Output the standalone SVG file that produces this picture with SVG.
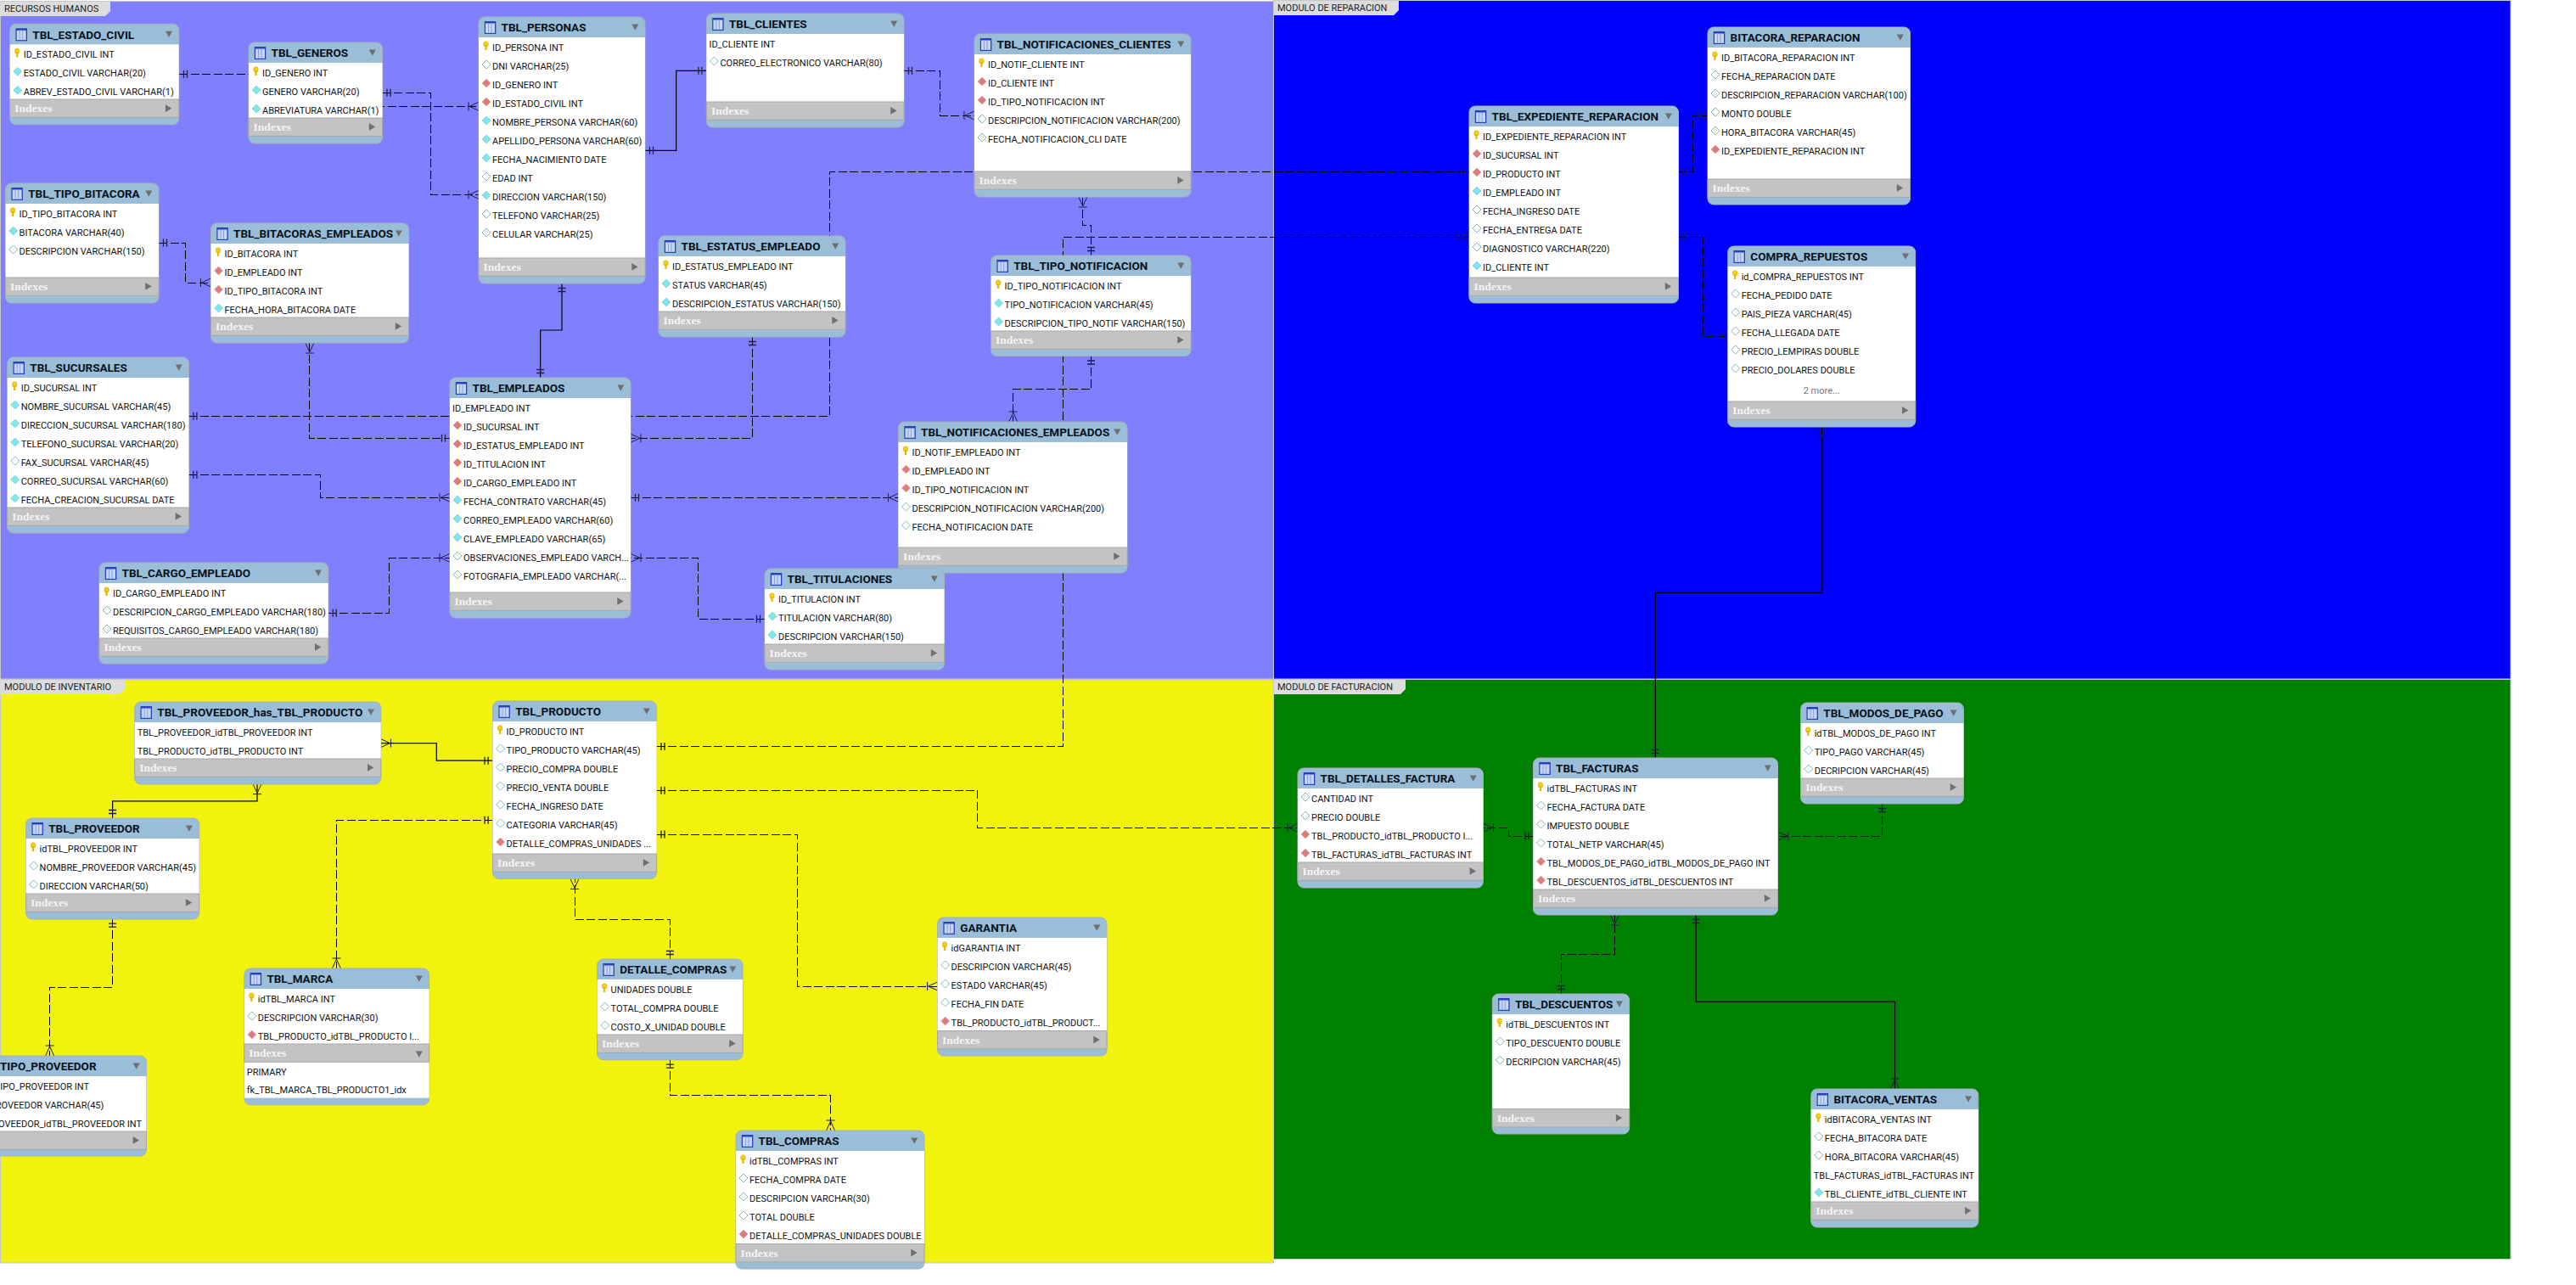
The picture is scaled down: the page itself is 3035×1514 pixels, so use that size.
<svg xmlns="http://www.w3.org/2000/svg" width="3035" height="1514" viewBox="0 0 3035 1514">
<style>
text{font-family:Roboto,"Liberation Sans",sans-serif;fill:#111}
.lb{font-size:11px;fill:#222}
.r{font-size:11px}
.t{font-size:13.5px;font-weight:700;fill:#08121c}
.x{font-family:"Liberation Serif",serif;font-size:13.5px;font-weight:700;fill:#f4f4f4}
.m{font-size:11px;fill:#777;text-anchor:middle}
.n{fill:#9abdd8;stroke:#a8b0b8;stroke-width:1}
.b{fill:#fff}
.i{fill:#c3c3c3;stroke:#a8a8a8;stroke-width:1}
.tab{fill:#dcdcdc}
.ly{stroke:#c8c8c8;stroke-width:1}
.d{fill:none;stroke:#000;stroke-width:1;stroke-dasharray:10 3.5;shape-rendering:crispEdges}
.s{fill:none;stroke:#000;stroke-width:1.2}
.d,.s{marker-start:url(#one)}
.c1{marker-end:url(#many)}
.c2{marker-end:url(#one)}
.c3{marker-start:url(#many)}
</style>
<defs>
<marker id="one" markerUnits="userSpaceOnUse" markerWidth="30" markerHeight="20" viewBox="-20 -10 30 20" refX="0" refY="0" orient="auto-start-reverse" overflow="visible">
<path d="M-5.5-4.5V4.5M-9.5-4.5V4.5" fill="none" stroke="#1e1e48" stroke-width="1.3"/>
</marker>
<marker id="many" markerUnits="userSpaceOnUse" markerWidth="30" markerHeight="20" viewBox="-20 -10 30 20" refX="0" refY="0" orient="auto-start-reverse" overflow="visible">
<path d="M0-5L-11 0L0 5M-12-5V5" fill="none" stroke="#1e1e48" stroke-width="1"/>
</marker>
<g id="ic"><rect x="6.8" y="5" width="13.5" height="15" fill="#2a3fc0"/><rect x="8" y="7.5" width="11" height="11.3" fill="#c4d6f2"/><path d="M11.5 7.5V18.8M15 7.5V18.8" stroke="#8aa4dc" stroke-width="1"/></g>
<polygon id="tri" points="0,8.4 8,8.4 4,15.7" fill="#6f6f6f"/>
<polygon id="arr" points="0,0 7.3,4.4 0,8.8" fill="#6f6f6f"/>
<g id="k"><ellipse cx="8.5" cy="32" rx="2.8" ry="3.2" fill="#f6d20e" stroke="#c79a00" stroke-width=".5"/><rect x="7.4" y="33" width="2.2" height="6" fill="#e8b800"/></g>
<polygon id="c" points="9,29 14,34 9,39 4,34" fill="#7ae8ec" stroke="#9cd0d4" stroke-width="1"/>
<polygon id="w" points="9,29 14,34 9,39 4,34" fill="#fff" stroke="#7fb8b8" stroke-width="1"/>
<polygon id="o" points="9,29 14,34 9,39 4,34" fill="#e07a7a" stroke="#dcb0b0" stroke-width="1"/>
</defs>
<rect width="3035" height="1514" fill="#fff"/>
<g id="layers">
<rect class="ly" x="0.5" y="1.5" width="1500" height="798.5" fill="#8080ff"/>
<rect class="ly" x="1500.5" y="0.5" width="1457.5" height="799.5" fill="#0000ff"/>
<rect class="ly" x="0.5" y="800.5" width="1500" height="687.5" fill="#f2f20f"/>
<rect class="ly" x="1500.5" y="800.5" width="1457.5" height="683" fill="#008000"/>
<polygon class="tab" points="0,2 130,2 130,13 124,19 0,19"/><text class="lb" x="5" y="14">RECURSOS HUMANOS</text>
<polygon class="tab" points="1501,1 1648,1 1648,12 1642,18 1501,18"/><text class="lb" x="1505" y="13">MODULO DE REPARACION</text>
<polygon class="tab" points="0,801 147,801 147,812 141,818 0,818"/><text class="lb" x="5" y="813">MODULO DE INVENTARIO</text>
<polygon class="tab" points="1501,801 1656,801 1656,812 1650,818 1501,818"/><text class="lb" x="1505" y="813">MODULO DE FACTURACION</text>
</g>
<g id="connectors">
<path class="d c1" d="M211,87.3H400V125.3H564"/>
<path class="d c1" d="M450.5,109.3H507.7V229.3H564"/>
<path class="d c1" d="M187,286H218.4V333H248.5"/>
<path class="s c2" d="M760,177.3H796.7V83.3H832.4"/>
<path class="d c1" d="M1065,83.3H1107.4V136H1148"/>
<path class="s c2" d="M662,334V389H636.7V445"/>
<path class="d c3 c2" d="M364.8,404V516.3H530"/>
<path class="d c2" d="M222.4,490.3H977.3V202.5H1731"/>
<path class="d c1" d="M886.5,397V516.3H743"/>
<path class="d c1" d="M222.4,559.3H377V586.3H530"/>
<path class="d c1" d="M743,586.3H1058.5"/>
<path class="d c1" d="M386.7,722.3H458.7V657.3H530"/>
<path class="d c1" d="M901,729.3H822.8V657.3H743"/>
<path class="d c1" d="M1285.5,301V265.7H1275.8V232"/>
<path class="d c1" d="M1285.5,419.5V458.3H1193.7V497"/>
<path class="d c1" d="M773.5,879.6H1252.5V279.3H1731"/>
<path class="d c1" d="M1977.5,202.8H1994V136H2012"/>
<path class="d c1" d="M1977.5,279.2H2006.6V396.2H2035.7"/>
<path class="s c1" d="M1950.4,893V698.3H2146.7V503"/>
<path class="s c1" d="M580.6,896.2H514.3V875.6H448.5"/>
<path class="s c1" d="M132.6,964V943.8H303V923.6"/>
<path class="d c1" d="M132.6,1082.6V1163.4H58.7V1244"/>
<path class="d c1" d="M580.6,966.3H396.4V1141"/>
<path class="d c1" d="M789.3,1130V1083H677V1035.4"/>
<path class="d c1" d="M789.3,1248.7V1290H978.6V1332"/>
<path class="d c1" d="M773.5,983H939.3V1162H1104.6"/>
<path class="d c1" d="M773.5,931.2H1151.5V975.2H1529"/>
<path class="d c1" d="M1806.5,985H1777V975.2H1747.4"/>
<path class="d c1" d="M2217.6,947V985H2094.7"/>
<path class="d c1" d="M1839.3,1171V1124.6H1902.4V1078"/>
<path class="s c1" d="M1998.3,1078V1180.3H2232.5V1283"/>
</g>
<g id="TBL_ESTADO_CIVIL" transform="translate(11.7 28.3)">
<rect class="n" width="199" height="118.4" rx="7"/><rect class="b" y="24" width="199" height="64.7"/><rect class="i" y="88.7" width="199" height="21.3"/>
<use href="#ic"/><text class="t" x="26.6" y="17.4">TBL_ESTADO_CIVIL</text><use href="#tri" x="183.3"/>
<use href="#k"/><text class="r" x="16" y="40">ID_ESTADO_CIVIL INT</text>
<use href="#c" y="22"/><text class="r" x="16" y="62">ESTADO_CIVIL VARCHAR(20)</text>
<use href="#c" y="44"/><text class="r" x="16" y="84">ABREV_ESTADO_CIVIL VARCHAR(1)</text>
<text class="x" x="5.5" y="104">Indexes</text><use href="#arr" x="183.3" y="95"/>
</g>
<g id="TBL_GENEROS" transform="translate(293 50)">
<rect class="n" width="157.5" height="119" rx="7"/><rect class="b" y="24" width="157.5" height="65"/><rect class="i" y="89" width="157.5" height="21.3"/>
<use href="#ic"/><text class="t" x="26.6" y="17.4">TBL_GENEROS</text><use href="#tri" x="141.8"/>
<use href="#k"/><text class="r" x="16" y="40">ID_GENERO INT</text>
<use href="#c" y="22"/><text class="r" x="16" y="62">GENERO VARCHAR(20)</text>
<use href="#c" y="44"/><text class="r" x="16" y="84">ABREVIATURA VARCHAR(1)</text>
<text class="x" x="5.5" y="104">Indexes</text><use href="#arr" x="141.8" y="95"/>
</g>
<g id="TBL_PERSONAS" transform="translate(564 20)">
<rect class="n" width="196" height="314" rx="7"/><rect class="b" y="24" width="196" height="260"/><rect class="i" y="284" width="196" height="21.3"/>
<use href="#ic"/><text class="t" x="26.6" y="17.4">TBL_PERSONAS</text><use href="#tri" x="180.3"/>
<use href="#k"/><text class="r" x="16" y="40">ID_PERSONA INT</text>
<use href="#w" y="22"/><text class="r" x="16" y="62">DNI VARCHAR(25)</text>
<use href="#o" y="44"/><text class="r" x="16" y="84">ID_GENERO INT</text>
<use href="#o" y="66"/><text class="r" x="16" y="106">ID_ESTADO_CIVIL INT</text>
<use href="#c" y="88"/><text class="r" x="16" y="128">NOMBRE_PERSONA VARCHAR(60)</text>
<use href="#c" y="110"/><text class="r" x="16" y="150">APELLIDO_PERSONA VARCHAR(60)</text>
<use href="#c" y="132"/><text class="r" x="16" y="172">FECHA_NACIMIENTO DATE</text>
<use href="#w" y="154"/><text class="r" x="16" y="194">EDAD INT</text>
<use href="#c" y="176"/><text class="r" x="16" y="216">DIRECCION VARCHAR(150)</text>
<use href="#w" y="198"/><text class="r" x="16" y="238">TELEFONO VARCHAR(25)</text>
<use href="#w" y="220"/><text class="r" x="16" y="260">CELULAR VARCHAR(25)</text>
<text class="x" x="5.5" y="299">Indexes</text><use href="#arr" x="180.3" y="290"/>
</g>
<g id="TBL_TIPO_BITACORA" transform="translate(6.6 216)">
<rect class="n" width="180.4" height="141" rx="7"/><rect class="b" y="24" width="180.4" height="87"/><rect class="i" y="111" width="180.4" height="21.3"/>
<use href="#ic"/><text class="t" x="26.6" y="17.4">TBL_TIPO_BITACORA</text><use href="#tri" x="164.7"/>
<use href="#k"/><text class="r" x="16" y="40">ID_TIPO_BITACORA INT</text>
<use href="#c" y="22"/><text class="r" x="16" y="62">BITACORA VARCHAR(40)</text>
<use href="#w" y="44"/><text class="r" x="16" y="84">DESCRIPCION VARCHAR(150)</text>
<text class="x" x="5.5" y="126">Indexes</text><use href="#arr" x="164.7" y="117"/>
</g>
<g id="TBL_BITACORAS_EMPLEADOS" transform="translate(248.5 263)">
<rect class="n" width="233" height="141" rx="7"/><rect class="b" y="24" width="233" height="87"/><rect class="i" y="111" width="233" height="21.3"/>
<use href="#ic"/><text class="t" x="26.6" y="17.4">TBL_BITACORAS_EMPLEADOS</text><use href="#tri" x="217.3"/>
<use href="#k"/><text class="r" x="16" y="40">ID_BITACORA INT</text>
<use href="#o" y="22"/><text class="r" x="16" y="62">ID_EMPLEADO INT</text>
<use href="#o" y="44"/><text class="r" x="16" y="84">ID_TIPO_BITACORA INT</text>
<use href="#c" y="66"/><text class="r" x="16" y="106">FECHA_HORA_BITACORA DATE</text>
<text class="x" x="5.5" y="126">Indexes</text><use href="#arr" x="217.3" y="117"/>
</g>
<g id="TBL_CLIENTES" transform="translate(832.4 16)">
<rect class="n" width="232.6" height="134" rx="7"/><rect class="b" y="24" width="232.6" height="80"/><rect class="i" y="104" width="232.6" height="21.3"/>
<use href="#ic"/><text class="t" x="26.6" y="17.4">TBL_CLIENTES</text><use href="#tri" x="216.9"/>
<text class="r" x="3" y="40">ID_CLIENTE INT</text>
<use href="#w" y="22"/><text class="r" x="16" y="62">CORREO_ELECTRONICO VARCHAR(80)</text>
<text class="x" x="5.5" y="119">Indexes</text><use href="#arr" x="216.9" y="110"/>
</g>
<g id="TBL_NOTIFICACIONES_CLIENTES" transform="translate(1148 40)">
<rect class="n" width="255" height="192" rx="7"/><rect class="b" y="24" width="255" height="138"/><rect class="i" y="162" width="255" height="21.3"/>
<use href="#ic"/><text class="t" x="26.6" y="17.4">TBL_NOTIFICACIONES_CLIENTES</text><use href="#tri" x="239.3"/>
<use href="#k"/><text class="r" x="16" y="40">ID_NOTIF_CLIENTE INT</text>
<use href="#o" y="22"/><text class="r" x="16" y="62">ID_CLIENTE INT</text>
<use href="#o" y="44"/><text class="r" x="16" y="84">ID_TIPO_NOTIFICACION INT</text>
<use href="#w" y="66"/><text class="r" x="16" y="106">DESCRIPCION_NOTIFICACION VARCHAR(200)</text>
<use href="#w" y="88"/><text class="r" x="16" y="128">FECHA_NOTIFICACION_CLI DATE</text>
<text class="x" x="5.5" y="177">Indexes</text><use href="#arr" x="239.3" y="168"/>
</g>
<g id="TBL_ESTATUS_EMPLEADO" transform="translate(776 278)">
<rect class="n" width="220" height="119" rx="7"/><rect class="b" y="24" width="220" height="65"/><rect class="i" y="89" width="220" height="21.3"/>
<use href="#ic"/><text class="t" x="26.6" y="17.4">TBL_ESTATUS_EMPLEADO</text><use href="#tri" x="204.3"/>
<use href="#k"/><text class="r" x="16" y="40">ID_ESTATUS_EMPLEADO INT</text>
<use href="#c" y="22"/><text class="r" x="16" y="62">STATUS VARCHAR(45)</text>
<use href="#c" y="44"/><text class="r" x="16" y="84">DESCRIPCION_ESTATUS VARCHAR(150)</text>
<text class="x" x="5.5" y="104">Indexes</text><use href="#arr" x="204.3" y="95"/>
</g>
<g id="TBL_TIPO_NOTIFICACION" transform="translate(1167.6 301)">
<rect class="n" width="235.4" height="118.5" rx="7"/><rect class="b" y="24" width="235.4" height="65"/><rect class="i" y="89" width="235.4" height="21.3"/>
<use href="#ic"/><text class="t" x="26.6" y="17.4">TBL_TIPO_NOTIFICACION</text><use href="#tri" x="219.7"/>
<use href="#k"/><text class="r" x="16" y="40">ID_TIPO_NOTIFICACION INT</text>
<use href="#c" y="22"/><text class="r" x="16" y="62">TIPO_NOTIFICACION VARCHAR(45)</text>
<use href="#c" y="44"/><text class="r" x="16" y="84">DESCRIPCION_TIPO_NOTIF VARCHAR(150)</text>
<text class="x" x="5.5" y="104">Indexes</text><use href="#arr" x="219.7" y="95"/>
</g>
<g id="TBL_SUCURSALES" transform="translate(8.7 421)">
<rect class="n" width="213.7" height="207" rx="7"/><rect class="b" y="24" width="213.7" height="153"/><rect class="i" y="177" width="213.7" height="21.3"/>
<use href="#ic"/><text class="t" x="26.6" y="17.4">TBL_SUCURSALES</text><use href="#tri" x="198"/>
<use href="#k"/><text class="r" x="16" y="40">ID_SUCURSAL INT</text>
<use href="#c" y="22"/><text class="r" x="16" y="62">NOMBRE_SUCURSAL VARCHAR(45)</text>
<use href="#c" y="44"/><text class="r" x="16" y="84">DIRECCION_SUCURSAL VARCHAR(180)</text>
<use href="#c" y="66"/><text class="r" x="16" y="106">TELEFONO_SUCURSAL VARCHAR(20)</text>
<use href="#w" y="88"/><text class="r" x="16" y="128">FAX_SUCURSAL VARCHAR(45)</text>
<use href="#c" y="110"/><text class="r" x="16" y="150">CORREO_SUCURSAL VARCHAR(60)</text>
<use href="#c" y="132"/><text class="r" x="16" y="172">FECHA_CREACION_SUCURSAL DATE</text>
<text class="x" x="5.5" y="192">Indexes</text><use href="#arr" x="198" y="183"/>
</g>
<g id="TBL_EMPLEADOS" transform="translate(530 445)">
<rect class="n" width="213" height="283" rx="7"/><rect class="b" y="24" width="213" height="229"/><rect class="i" y="253" width="213" height="21.3"/>
<use href="#ic"/><text class="t" x="26.6" y="17.4">TBL_EMPLEADOS</text><use href="#tri" x="197.3"/>
<text class="r" x="3" y="40">ID_EMPLEADO INT</text>
<use href="#o" y="22"/><text class="r" x="16" y="62">ID_SUCURSAL INT</text>
<use href="#o" y="44"/><text class="r" x="16" y="84">ID_ESTATUS_EMPLEADO INT</text>
<use href="#o" y="66"/><text class="r" x="16" y="106">ID_TITULACION INT</text>
<use href="#o" y="88"/><text class="r" x="16" y="128">ID_CARGO_EMPLEADO INT</text>
<use href="#c" y="110"/><text class="r" x="16" y="150">FECHA_CONTRATO VARCHAR(45)</text>
<use href="#c" y="132"/><text class="r" x="16" y="172">CORREO_EMPLEADO VARCHAR(60)</text>
<use href="#c" y="154"/><text class="r" x="16" y="194">CLAVE_EMPLEADO VARCHAR(65)</text>
<use href="#w" y="176"/><text class="r" x="16" y="216">OBSERVACIONES_EMPLEADO VARCH...</text>
<use href="#w" y="198"/><text class="r" x="16" y="238">FOTOGRAFIA_EMPLEADO VARCHAR(...</text>
<text class="x" x="5.5" y="268">Indexes</text><use href="#arr" x="197.3" y="259"/>
</g>
<g id="TBL_CARGO_EMPLEADO" transform="translate(117 663)">
<rect class="n" width="269.7" height="119" rx="7"/><rect class="b" y="24" width="269.7" height="65"/><rect class="i" y="89" width="269.7" height="21.3"/>
<use href="#ic"/><text class="t" x="26.6" y="17.4">TBL_CARGO_EMPLEADO</text><use href="#tri" x="254"/>
<use href="#k"/><text class="r" x="16" y="40">ID_CARGO_EMPLEADO INT</text>
<use href="#w" y="22"/><text class="r" x="16" y="62">DESCRIPCION_CARGO_EMPLEADO VARCHAR(180)</text>
<use href="#w" y="44"/><text class="r" x="16" y="84">REQUISITOS_CARGO_EMPLEADO VARCHAR(180)</text>
<text class="x" x="5.5" y="104">Indexes</text><use href="#arr" x="254" y="95"/>
</g>
<g id="TBL_NOTIFICACIONES_EMPLEADOS" transform="translate(1058.5 497)">
<rect class="n" width="269.5" height="178" rx="7"/><rect class="b" y="24" width="269.5" height="124"/><rect class="i" y="148" width="269.5" height="21.3"/>
<use href="#ic"/><text class="t" x="26.6" y="17.4">TBL_NOTIFICACIONES_EMPLEADOS</text><use href="#tri" x="253.8"/>
<use href="#k"/><text class="r" x="16" y="40">ID_NOTIF_EMPLEADO INT</text>
<use href="#o" y="22"/><text class="r" x="16" y="62">ID_EMPLEADO INT</text>
<use href="#o" y="44"/><text class="r" x="16" y="84">ID_TIPO_NOTIFICACION INT</text>
<use href="#w" y="66"/><text class="r" x="16" y="106">DESCRIPCION_NOTIFICACION VARCHAR(200)</text>
<use href="#w" y="88"/><text class="r" x="16" y="128">FECHA_NOTIFICACION DATE</text>
<text class="x" x="5.5" y="163">Indexes</text><use href="#arr" x="253.8" y="154"/>
</g>
<g id="TBL_TITULACIONES" transform="translate(901 670)">
<rect class="n" width="211.5" height="119" rx="7"/><rect class="b" y="24" width="211.5" height="65"/><rect class="i" y="89" width="211.5" height="21.3"/>
<use href="#ic"/><text class="t" x="26.6" y="17.4">TBL_TITULACIONES</text><use href="#tri" x="195.8"/>
<use href="#k"/><text class="r" x="16" y="40">ID_TITULACION INT</text>
<use href="#c" y="22"/><text class="r" x="16" y="62">TITULACION VARCHAR(80)</text>
<use href="#c" y="44"/><text class="r" x="16" y="84">DESCRIPCION VARCHAR(150)</text>
<text class="x" x="5.5" y="104">Indexes</text><use href="#arr" x="195.8" y="95"/>
</g>
<g id="TBL_EXPEDIENTE_REPARACION" transform="translate(1731 125)">
<rect class="n" width="246.5" height="232" rx="7"/><rect class="b" y="24" width="246.5" height="178"/><rect class="i" y="202" width="246.5" height="21.3"/>
<use href="#ic"/><text class="t" x="26.6" y="17.4">TBL_EXPEDIENTE_REPARACION</text><use href="#tri" x="230.8"/>
<use href="#k"/><text class="r" x="16" y="40">ID_EXPEDIENTE_REPARACION INT</text>
<use href="#o" y="22"/><text class="r" x="16" y="62">ID_SUCURSAL INT</text>
<use href="#o" y="44"/><text class="r" x="16" y="84">ID_PRODUCTO INT</text>
<use href="#c" y="66"/><text class="r" x="16" y="106">ID_EMPLEADO INT</text>
<use href="#w" y="88"/><text class="r" x="16" y="128">FECHA_INGRESO DATE</text>
<use href="#w" y="110"/><text class="r" x="16" y="150">FECHA_ENTREGA DATE</text>
<use href="#w" y="132"/><text class="r" x="16" y="172">DIAGNOSTICO VARCHAR(220)</text>
<use href="#c" y="154"/><text class="r" x="16" y="194">ID_CLIENTE INT</text>
<text class="x" x="5.5" y="217">Indexes</text><use href="#arr" x="230.8" y="208"/>
</g>
<g id="BITACORA_REPARACION" transform="translate(2012 32)">
<rect class="n" width="238.5" height="209" rx="7"/><rect class="b" y="24" width="238.5" height="155"/><rect class="i" y="179" width="238.5" height="21.3"/>
<use href="#ic"/><text class="t" x="26.6" y="17.4">BITACORA_REPARACION</text><use href="#tri" x="222.8"/>
<use href="#k"/><text class="r" x="16" y="40">ID_BITACORA_REPARACION INT</text>
<use href="#w" y="22"/><text class="r" x="16" y="62">FECHA_REPARACION DATE</text>
<use href="#w" y="44"/><text class="r" x="16" y="84">DESCRIPCION_REPARACION VARCHAR(100)</text>
<use href="#w" y="66"/><text class="r" x="16" y="106">MONTO DOUBLE</text>
<use href="#w" y="88"/><text class="r" x="16" y="128">HORA_BITACORA VARCHAR(45)</text>
<use href="#o" y="110"/><text class="r" x="16" y="150">ID_EXPEDIENTE_REPARACION INT</text>
<text class="x" x="5.5" y="194">Indexes</text><use href="#arr" x="222.8" y="185"/>
</g>
<g id="COMPRA_REPUESTOS" transform="translate(2035.7 290)">
<rect class="n" width="221" height="213" rx="7"/><rect class="b" y="24" width="221" height="159"/><rect class="i" y="183" width="221" height="21.3"/>
<use href="#ic"/><text class="t" x="26.6" y="17.4">COMPRA_REPUESTOS</text><use href="#tri" x="205.3"/>
<use href="#k"/><text class="r" x="16" y="40">id_COMPRA_REPUESTOS INT</text>
<use href="#w" y="22"/><text class="r" x="16" y="62">FECHA_PEDIDO DATE</text>
<use href="#w" y="44"/><text class="r" x="16" y="84">PAIS_PIEZA VARCHAR(45)</text>
<use href="#w" y="66"/><text class="r" x="16" y="106">FECHA_LLEGADA DATE</text>
<use href="#w" y="88"/><text class="r" x="16" y="128">PRECIO_LEMPIRAS DOUBLE</text>
<use href="#w" y="110"/><text class="r" x="16" y="150">PRECIO_DOLARES DOUBLE</text>
<text class="m" x="110.5" y="174">2 more...</text>
<text class="x" x="5.5" y="198">Indexes</text><use href="#arr" x="205.3" y="189"/>
</g>
<g id="TBL_PROVEEDOR_has_TBL_PRODUCTO" transform="translate(158.7 827)">
<rect class="n" width="290" height="97" rx="7"/><rect class="b" y="24" width="290" height="43"/><rect class="i" y="67" width="290" height="21.3"/>
<use href="#ic"/><text class="t" x="26.6" y="17.4">TBL_PROVEEDOR_has_TBL_PRODUCTO</text><use href="#tri" x="274.3"/>
<text class="r" x="3" y="40">TBL_PROVEEDOR_idTBL_PROVEEDOR INT</text>
<text class="r" x="3" y="62">TBL_PRODUCTO_idTBL_PRODUCTO INT</text>
<text class="x" x="5.5" y="82">Indexes</text><use href="#arr" x="274.3" y="73"/>
</g>
<g id="TBL_PRODUCTO" transform="translate(580.6 826)">
<rect class="n" width="193" height="209.4" rx="7"/><rect class="b" y="24" width="193" height="156"/><rect class="i" y="180" width="193" height="21.3"/>
<use href="#ic"/><text class="t" x="26.6" y="17.4">TBL_PRODUCTO</text><use href="#tri" x="177.3"/>
<use href="#k"/><text class="r" x="16" y="40">ID_PRODUCTO INT</text>
<use href="#w" y="22"/><text class="r" x="16" y="62">TIPO_PRODUCTO VARCHAR(45)</text>
<use href="#w" y="44"/><text class="r" x="16" y="84">PRECIO_COMPRA DOUBLE</text>
<use href="#w" y="66"/><text class="r" x="16" y="106">PRECIO_VENTA DOUBLE</text>
<use href="#w" y="88"/><text class="r" x="16" y="128">FECHA_INGRESO DATE</text>
<use href="#w" y="110"/><text class="r" x="16" y="150">CATEGORIA VARCHAR(45)</text>
<use href="#o" y="132"/><text class="r" x="16" y="172">DETALLE_COMPRAS_UNIDADES ...</text>
<text class="x" x="5.5" y="195">Indexes</text><use href="#arr" x="177.3" y="186"/>
</g>
<g id="TBL_PROVEEDOR" transform="translate(30.6 964)">
<rect class="n" width="204" height="119" rx="7"/><rect class="b" y="24" width="204" height="65"/><rect class="i" y="89" width="204" height="21.3"/>
<use href="#ic"/><text class="t" x="26.6" y="17.4">TBL_PROVEEDOR</text><use href="#tri" x="188.3"/>
<use href="#k"/><text class="r" x="16" y="40">idTBL_PROVEEDOR INT</text>
<use href="#w" y="22"/><text class="r" x="16" y="62">NOMBRE_PROVEEDOR VARCHAR(45)</text>
<use href="#w" y="44"/><text class="r" x="16" y="84">DIRECCION VARCHAR(50)</text>
<text class="x" x="5.5" y="104">Indexes</text><use href="#arr" x="188.3" y="95"/>
</g>
<g id="TIPO_PROVEEDOR" transform="translate(-30 1244)">
<rect class="n" width="202.4" height="118" rx="7"/><rect class="b" y="24" width="202.4" height="65"/><rect class="i" y="89" width="202.4" height="21.3"/>
<text class="t" x="30" y="17.4">TIPO_PROVEEDOR</text><use href="#tri" x="186.7"/>
<text class="r" x="135" y="40" text-anchor="end">IPO_PROVEEDOR INT</text>
<text class="r" x="152.4" y="62" text-anchor="end">ROVEEDOR VARCHAR(45)</text>
<text class="r" x="197" y="84" text-anchor="end">OVEEDOR_idTBL_PROVEEDOR INT</text>
<use href="#arr" x="186.7" y="95"/>
</g>
<g id="TBL_MARCA" transform="translate(287.8 1141)">
<rect class="n" width="217.8" height="160.7" rx="7"/><rect class="b" y="24" width="217.8" height="65"/><rect class="b" y="110" width="217.8" height="42.6"/><rect class="i" y="89" width="217.8" height="21.3"/>
<use href="#ic"/><text class="t" x="26.6" y="17.4">TBL_MARCA</text><use href="#tri" x="202"/>
<use href="#k"/><text class="r" x="16" y="40">idTBL_MARCA INT</text>
<use href="#w" y="22"/><text class="r" x="16" y="62">DESCRIPCION VARCHAR(30)</text>
<use href="#o" y="44"/><text class="r" x="16" y="84">TBL_PRODUCTO_idTBL_PRODUCTO I...</text>
<text class="x" x="5.5" y="104">Indexes</text><use href="#tri" x="202" y="89"/>
<text class="r" x="3" y="126">PRIMARY</text>
<text class="r" x="3" y="147">fk_TBL_MARCA_TBL_PRODUCTO1_idx</text>
</g>
<g id="DETALLE_COMPRAS" transform="translate(703.6 1130)">
<rect class="n" width="171.4" height="118.7" rx="7"/><rect class="b" y="24" width="171.4" height="65"/><rect class="i" y="89" width="171.4" height="21.3"/>
<use href="#ic"/><text class="t" x="26.6" y="17.4">DETALLE_COMPRAS</text><use href="#tri" x="155.7"/>
<use href="#k"/><text class="r" x="16" y="40">UNIDADES DOUBLE</text>
<use href="#w" y="22"/><text class="r" x="16" y="62">TOTAL_COMPRA DOUBLE</text>
<use href="#w" y="44"/><text class="r" x="16" y="84">COSTO_X_UNIDAD DOUBLE</text>
<text class="x" x="5.5" y="104">Indexes</text><use href="#arr" x="155.7" y="95"/>
</g>
<g id="GARANTIA" transform="translate(1104.6 1081)">
<rect class="n" width="199.4" height="163" rx="7"/><rect class="b" y="24" width="199.4" height="109.6"/><rect class="i" y="133.6" width="199.4" height="21.3"/>
<use href="#ic"/><text class="t" x="26.6" y="17.4">GARANTIA</text><use href="#tri" x="183.7"/>
<use href="#k"/><text class="r" x="16" y="40">idGARANTIA INT</text>
<use href="#w" y="22"/><text class="r" x="16" y="62">DESCRIPCION VARCHAR(45)</text>
<use href="#w" y="44"/><text class="r" x="16" y="84">ESTADO VARCHAR(45)</text>
<use href="#w" y="66"/><text class="r" x="16" y="106">FECHA_FIN DATE</text>
<use href="#o" y="88"/><text class="r" x="16" y="128">TBL_PRODUCTO_idTBL_PRODUCT...</text>
<text class="x" x="5.5" y="148.6">Indexes</text><use href="#arr" x="183.7" y="139.6"/>
</g>
<g id="TBL_COMPRAS" transform="translate(867 1332)">
<rect class="n" width="222" height="163" rx="7"/><rect class="b" y="24" width="222" height="109.6"/><rect class="i" y="133.6" width="222" height="21.3"/>
<use href="#ic"/><text class="t" x="26.6" y="17.4">TBL_COMPRAS</text><use href="#tri" x="206.3"/>
<use href="#k"/><text class="r" x="16" y="40">idTBL_COMPRAS INT</text>
<use href="#w" y="22"/><text class="r" x="16" y="62">FECHA_COMPRA DATE</text>
<use href="#w" y="44"/><text class="r" x="16" y="84">DESCRIPCION VARCHAR(30)</text>
<use href="#w" y="66"/><text class="r" x="16" y="106">TOTAL DOUBLE</text>
<use href="#o" y="88"/><text class="r" x="16" y="128">DETALLE_COMPRAS_UNIDADES DOUBLE</text>
<text class="x" x="5.5" y="148.6">Indexes</text><use href="#arr" x="206.3" y="139.6"/>
</g>
<g id="TBL_DETALLES_FACTURA" transform="translate(1529 905)">
<rect class="n" width="218.4" height="141" rx="7"/><rect class="b" y="24" width="218.4" height="87"/><rect class="i" y="111" width="218.4" height="21.3"/>
<use href="#ic"/><text class="t" x="26.6" y="17.4">TBL_DETALLES_FACTURA</text><use href="#tri" x="202.7"/>
<use href="#w"/><text class="r" x="16" y="40">CANTIDAD INT</text>
<use href="#w" y="22"/><text class="r" x="16" y="62">PRECIO DOUBLE</text>
<use href="#o" y="44"/><text class="r" x="16" y="84">TBL_PRODUCTO_idTBL_PRODUCTO I...</text>
<use href="#o" y="66"/><text class="r" x="16" y="106">TBL_FACTURAS_idTBL_FACTURAS INT</text>
<text class="x" x="5.5" y="126">Indexes</text><use href="#arr" x="202.7" y="117"/>
</g>
<g id="TBL_FACTURAS" transform="translate(1806.5 893)">
<rect class="n" width="288" height="185" rx="7"/><rect class="b" y="24" width="288" height="131"/><rect class="i" y="155" width="288" height="21.3"/>
<use href="#ic"/><text class="t" x="26.6" y="17.4">TBL_FACTURAS</text><use href="#tri" x="272.3"/>
<use href="#k"/><text class="r" x="16" y="40">idTBL_FACTURAS INT</text>
<use href="#w" y="22"/><text class="r" x="16" y="62">FECHA_FACTURA DATE</text>
<use href="#w" y="44"/><text class="r" x="16" y="84">IMPUESTO DOUBLE</text>
<use href="#w" y="66"/><text class="r" x="16" y="106">TOTAL_NETP VARCHAR(45)</text>
<use href="#o" y="88"/><text class="r" x="16" y="128">TBL_MODOS_DE_PAGO_idTBL_MODOS_DE_PAGO INT</text>
<use href="#o" y="110"/><text class="r" x="16" y="150">TBL_DESCUENTOS_idTBL_DESCUENTOS INT</text>
<text class="x" x="5.5" y="170">Indexes</text><use href="#arr" x="272.3" y="161"/>
</g>
<g id="TBL_MODOS_DE_PAGO" transform="translate(2121.7 828)">
<rect class="n" width="191.7" height="119" rx="7"/><rect class="b" y="24" width="191.7" height="65"/><rect class="i" y="89" width="191.7" height="21.3"/>
<use href="#ic"/><text class="t" x="26.6" y="17.4">TBL_MODOS_DE_PAGO</text><use href="#tri" x="176"/>
<use href="#k"/><text class="r" x="16" y="40">idTBL_MODOS_DE_PAGO INT</text>
<use href="#w" y="22"/><text class="r" x="16" y="62">TIPO_PAGO VARCHAR(45)</text>
<use href="#w" y="44"/><text class="r" x="16" y="84">DECRIPCION VARCHAR(45)</text>
<text class="x" x="5.5" y="104">Indexes</text><use href="#arr" x="176" y="95"/>
</g>
<g id="TBL_DESCUENTOS" transform="translate(1758.3 1171)">
<rect class="n" width="161.3" height="165" rx="7"/><rect class="b" y="24" width="161.3" height="111.7"/><rect class="i" y="135.7" width="161.3" height="21.3"/>
<use href="#ic"/><text class="t" x="26.6" y="17.4">TBL_DESCUENTOS</text><use href="#tri" x="145.6"/>
<use href="#k"/><text class="r" x="16" y="40">idTBL_DESCUENTOS INT</text>
<use href="#w" y="22"/><text class="r" x="16" y="62">TIPO_DESCUENTO DOUBLE</text>
<use href="#w" y="44"/><text class="r" x="16" y="84">DECRIPCION VARCHAR(45)</text>
<text class="x" x="5.5" y="150.7">Indexes</text><use href="#arr" x="145.6" y="141.7"/>
</g>
<g id="BITACORA_VENTAS" transform="translate(2133.8 1283)">
<rect class="n" width="197" height="163" rx="7"/><rect class="b" y="24" width="197" height="109"/><rect class="i" y="133" width="197" height="21.3"/>
<use href="#ic"/><text class="t" x="26.6" y="17.4">BITACORA_VENTAS</text><use href="#tri" x="181.3"/>
<use href="#k"/><text class="r" x="16" y="40">idBITACORA_VENTAS INT</text>
<use href="#w" y="22"/><text class="r" x="16" y="62">FECHA_BITACORA DATE</text>
<use href="#w" y="44"/><text class="r" x="16" y="84">HORA_BITACORA VARCHAR(45)</text>
<text class="r" x="3" y="106">TBL_FACTURAS_idTBL_FACTURAS INT</text>
<use href="#c" y="88"/><text class="r" x="16" y="128">TBL_CLIENTE_idTBL_CLIENTE INT</text>
<text class="x" x="5.5" y="148">Indexes</text><use href="#arr" x="181.3" y="139"/>
</g>
</svg>
